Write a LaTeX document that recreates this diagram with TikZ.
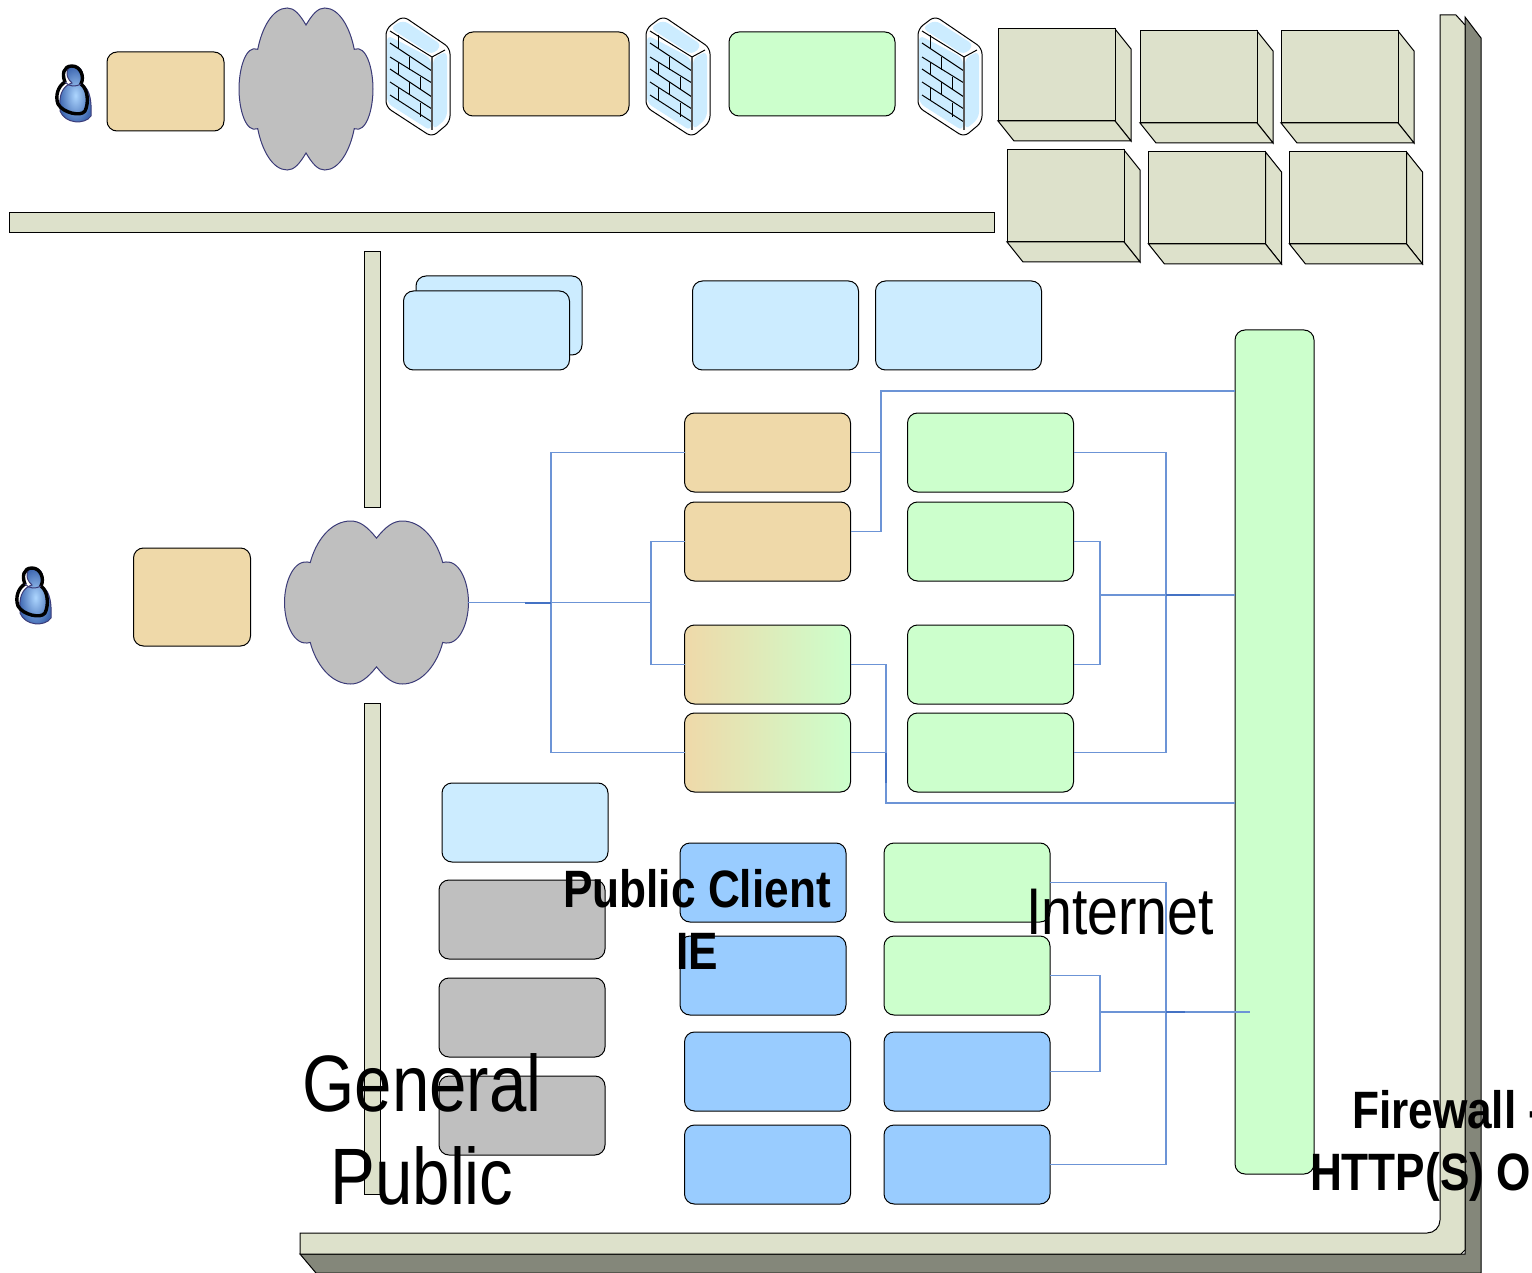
\documentclass[tikz,border=0pt]{standalone}
\usepackage{fontspec}
\setmainfont[FakeStretch=0.84]{Liberation Sans}
\definecolor{tanfill}{HTML}{EFD9A9}
\definecolor{greenfill}{HTML}{CCFFCC}
\definecolor{skyfill}{HTML}{CCECFF}
\definecolor{bluefill}{HTML}{99CCFF}
\definecolor{grayfill}{HTML}{BFBFBF}
\definecolor{panelfill}{HTML}{DDE1CB}
\definecolor{paneldark}{HTML}{84877A}
\definecolor{linkblue}{HTML}{6C94D6}
\definecolor{linkdark}{HTML}{4472C4}
\definecolor{cloudline}{HTML}{3B3B78}
\tikzset{
  box/.style={draw, rounded corners=5pt, line width=.5pt, inner sep=0pt, outer sep=0pt, minimum width=83pt, minimum height=39.5pt},
  tanbox/.style={box, fill=tanfill},
  greenbox/.style={box, fill=greenfill},
  skybox/.style={box, fill=skyfill},
  bluebox/.style={box, fill=bluefill},
  graybox/.style={box, fill=grayfill},
  mixbox/.style={box, left color=tanfill, right color=greenfill},
  panel/.style={draw, line width=.5pt, fill=panelfill},
  link/.style={draw=linkblue, line width=.6pt},
  stub/.style={draw=linkdark, line width=1pt},
  area/.style={inner sep=0pt, outer sep=0pt},
  cloudshape/.pic={
    \draw[fill=grayfill, draw=cloudline, line width=.5pt] (0,-.79)
      .. controls (-.1,-.93) and (-.18,-1) .. (-.28,-1)
      .. controls (-.5,-1) and (-.66,-.75) .. (-.72,-.49)
      .. controls (-.9,-.55) and (-1,-.25) .. (-1,0)
      .. controls (-1,.25) and (-.9,.55) .. (-.72,.49)
      .. controls (-.66,.75) and (-.5,1) .. (-.28,1)
      .. controls (-.18,1) and (-.1,.93) .. (0,.79)
      .. controls (.1,.93) and (.18,1) .. (.28,1)
      .. controls (.5,1) and (.66,.75) .. (.72,.49)
      .. controls (.9,.55) and (1,.25) .. (1,0)
      .. controls (1,-.25) and (.9,-.55) .. (.72,-.49)
      .. controls (.66,-.75) and (.5,-1) .. (.28,-1)
      .. controls (.18,-1) and (.1,-.93) .. (0,-.79) -- cycle;
  },
  crate/.pic={
    \draw[panel] (117,0) -- (133,20) -- (133,112) -- (117,92) -- cycle;
    \draw[panel] (0,92) -- (117,92) -- (133,112) -- (16,112) -- cycle;
    \draw[panel] (0,0) rectangle (117,92);
  },
  brickwall/.pic={
    \draw[fill=white, rounded corners=3pt, line width=.5pt] (0,11) -- (17,-2) -- (64,30) -- (64,104) -- (46,119) -- (0,89) -- cycle;
    \fill[skyfill, rounded corners=3pt] (4,10) -- (17,2) -- (56,27) -- (46,37) -- cycle;
    \fill[skyfill, rounded corners=3pt] (1,17) -- (45,40) -- (45,113) -- (1,85) -- cycle;
    \fill[skyfill, rounded corners=3pt] (47,40) -- (61,33) -- (61,100) -- (47,112) -- cycle;
    \foreach \ya/\yb in {13/39,25/53,39/65,51/79,64/91,77/104}
      \draw[line width=.5pt] (4,\ya) -- (46,\yb);
    \foreach \bx/\ya/\yb in {12/17/31,12/44/57,12/69/82,23/39/52,23/64/77,34/59/72,34/85/99}
      \draw[line width=.5pt] (\bx,\ya) -- (\bx,\yb);
    \draw[draw=gray!70!black, line width=.9pt] (46,39) -- (46,112);
    \draw[line width=.5pt] (46,39) -- (59,32);
  },
  personicon/.pic={
    \shade[inner color=bluefill!80!white, outer color=linkdark!90!black, draw=cloudline, line width=.5pt]
      (-13,27) .. controls (-14,14) and (-8,7) .. (-1,5) .. controls (-9,-2) and (-7,-12) .. (1,-12)
      .. controls (10,-12) and (12,-1) .. (7,6) .. controls (15,8) and (19,18) .. (18,38)
      .. controls (12,47) and (-8,46) .. (-13,33) -- cycle;
    \draw[line width=1.7pt, line join=round] (-1,-12) .. controls (-10,-12) and (-11,-3) .. (-8,4)
      .. controls (-15,8) and (-18,18) .. (-15,26) .. controls (-10,35) and (8,39) .. (12,33)
      .. controls (16,25) and (15,11) .. (8,6) .. controls (12,-2) and (7,-12) .. (-1,-12) -- cycle;
    \draw[line width=.5pt, draw=cloudline] (-8,4) .. controls (-4,9) and (3,9) .. (8,6);
  },
}
\begin{document}
\begin{tikzpicture}[x=.5pt, y=-.5pt]
\useasboundingbox (0,0) rectangle (1532,1273);
% frame
\draw[panel, fill=paneldark] (1465,17) -- (1481,38) -- (1481,1273) -- (316,1273) -- (300,1254) -- (1465,1254) -- cycle;
\draw[panel] (300,1233) -- (1427,1233) arc[start angle=90, end angle=0, radius=13] -- (1440,15) -- (1456,15) -- (1465,25) -- (1465,1250) -- (1461,1254) -- (300,1254) -- cycle;
\draw[panel] (9,212.5) rectangle (994.5,232.5);
\draw[panel] (364,251.5) rectangle (380.5,507);
\draw[panel] (364,703.5) rectangle (380.5,1194);
% top row
\pic at (73,78) {personicon};
\node[tanbox, minimum width=58.5pt] (tanEntry) at (165.5,91.5) {};
\pic[xscale=67, yscale=81] at (306,89) {cloudshape};
\pic at (386,18) {brickwall};
\node[tanbox, minimum height=42pt] (tanTop) at (546,74) {};
\pic at (646,18) {brickwall};
\node[greenbox, minimum height=42pt] (greenTop) at (812,74) {};
\pic at (918,18) {brickwall};
\foreach \cx/\cy in {998/29,1140/31,1281/31,1007/150,1148.5/152,1289.5/152}
  \pic at (\cx,\cy) {crate};
% public side
\pic at (33,580) {personicon};
\node[tanbox, minimum width=58.5pt, minimum height=49pt] (tanPub) at (192,597) {};
\pic[xscale=92, yscale=81.5] at (376.5,602.5) {cloudshape};
\node[area, minimum width=91.5pt, minimum height=81.5pt] (cloudPub) at (376.5,602.5) {};
\node[skybox] (skyBack) at (499,315.5) {};
\node[skybox] (skyFront) at (486.5,330.5) {};
\node[skybox, minimum height=44.5pt] (skyA) at (775.5,325.5) {};
\node[skybox, minimum height=44.5pt] (skyB) at (958.5,325.5) {};
\node[greenbox, minimum width=39.5pt, minimum height=422pt] (greenBig) at (1274.5,752) {};
\node[tanbox] (tanA) at (767.5,452.5) {};
\node[tanbox] (tanB) at (767.5,541.5) {};
\node[mixbox] (mixA) at (767.5,664.5) {};
\node[mixbox] (mixB) at (767.5,752.5) {};
\node[greenbox] (greenA) at (990.5,452.5) {};
\node[greenbox] (greenB) at (990.5,541.5) {};
\node[greenbox] (greenC) at (990.5,664.5) {};
\node[greenbox] (greenD) at (990.5,752.5) {};
\node[skybox] (skyC) at (525,822.5) {};
\node[graybox] (grayA) at (522,919.5) {};
\node[graybox] (grayB) at (522,1017.5) {};
\node[graybox] (grayC) at (522,1115.5) {};
\node[bluebox] (blueA) at (763,882.5) {};
\node[bluebox] (blueB) at (763,975.5) {};
\node[bluebox] (blueC) at (767.5,1071.5) {};
\node[bluebox] (blueD) at (767.5,1164.5) {};
\node[greenbox] (greenE) at (967,882.5) {};
\node[greenbox] (greenF) at (967,975.5) {};
\node[bluebox] (blueE) at (967,1071.5) {};
\node[bluebox] (blueF) at (967,1164.5) {};
% connectors
\coordinate (joinA) at (551,602.5);
\coordinate (joinB) at (651,602.5);
\coordinate (busTop) at (881,391);
\coordinate (busBot) at (886,803);
\coordinate (joinC) at (1100,595);
\coordinate (joinD) at (1100,1012);
\coordinate (midC) at (1166,595);
\coordinate (midD) at (1166,1012);
\draw[link] (cloudPub.east) -- (joinB);
\draw[link] (tanA.west) -| (joinA) |- (mixB.west);
\draw[link] (tanB.west) -| (joinB) |- (mixA.west);
\draw[link] (tanA.east) -| (busTop) -- (busTop -| greenBig.west);
\draw[link] ([yshift=5pt]tanB.east) -| (busTop);
\draw[link] (mixA.east) -| (busBot) -- (busBot -| greenBig.west);
\draw[link] (mixB.east) -- (mixB.east -| busBot);
\draw[link] (greenA.east) -| (midC) |- (greenD.east);
\draw[link] (greenB.east) -| (joinC) |- (greenC.east);
\draw[link] (joinC) -- (joinC -| greenBig.west);
\draw[link] (greenE.east) -| (midD) |- (blueF.east);
\draw[link] (greenF.east) -| (joinD) |- (blueE.east);
\draw[link] (joinD) -- (1250,1012);
\draw[stub] (525,602.5) -- (joinA);
\draw[stub] (midC) -- (1200,595);
\draw[stub] (midD) -- (1185,1012);
\draw[stub] (mixB.east -| busBot) -- (886,783);
% labels
\node[area, align=center, font=\fontsize{40}{46.5}\selectfont] (lblGeneral) at (422,1129) {General\\Public};
\node[area, align=center, font=\fontsize{26.3}{31}\selectfont\bfseries] (lblClient) at (697,919) {Public Client\\IE};
\node[area, font=\fontsize{33}{38}\selectfont] (lblInternet) at (1120,912) {Internet};
\node[area, anchor=base west, font=\fontsize{26.3}{31}\selectfont\bfseries] (lblFirewall) at (1352,1128) {Firewall -};
\node[area, anchor=base west, font=\fontsize{26.3}{31}\selectfont\bfseries] (lblHttp) at (1310,1190) {HTTP(S) O};
\end{tikzpicture}
\end{document}
